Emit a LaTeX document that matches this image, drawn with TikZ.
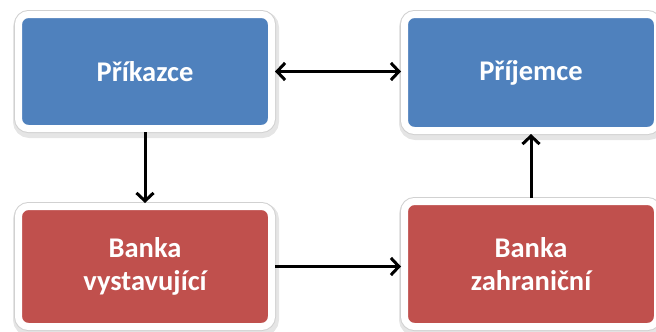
\documentclass[tikz,border=0pt]{standalone}
\usepackage{fontspec}
\setmainfont{Carlito}
\usetikzlibrary{arrows.meta}
\definecolor{boxblue}{HTML}{4F81BD}
\definecolor{boxred}{HTML}{C0504D}
\tikzset{
  card/.style={
    rounded corners=10pt, draw=white, line width=7pt,
    minimum width=253pt, text width=240pt, align=center,
    font=\fontsize{28.5}{33}\selectfont\bfseries, text=white,
    inner sep=0pt, outer sep=3.5pt,
    preaction={draw=black!10, line width=13pt, transform canvas={xshift=1pt,yshift=-3pt}},
    preaction={draw=black!18, line width=9pt},
  },
  bluecard/.style={card, fill=boxblue},
  redcard/.style={card, fill=boxred},
  barb/.tip={Straight Barb[length=8pt,width=17pt,line width=3pt]},
  flow/.style={line width=3pt, -barb},
  twoway/.style={line width=3pt, barb-barb},
}
\begin{document}
\begin{tikzpicture}[x=1pt,y=-1pt]
  \useasboundingbox (0,0) rectangle (656,332);
  \node[bluecard, minimum height=114pt] (A) at (145,71.5) {Příkazce};
  \node[bluecard, minimum height=116pt] (B) at (531,72.5) {Příjemce};
  \node[redcard, minimum height=120pt] (C) at (145,266.5) {Banka\\vystavující};
  \node[redcard, minimum height=125pt] (D) at (531,264) {Banka\\zahraniční};
  \draw[twoway] (A.east) -- (A.east -| B.west);
  \draw[flow] (A.south) -- (C.north);
  \draw[flow] (D.north) -- (B.south);
  \draw[flow] (C.east) -- (C.east -| D.west);
\end{tikzpicture}
\end{document}
